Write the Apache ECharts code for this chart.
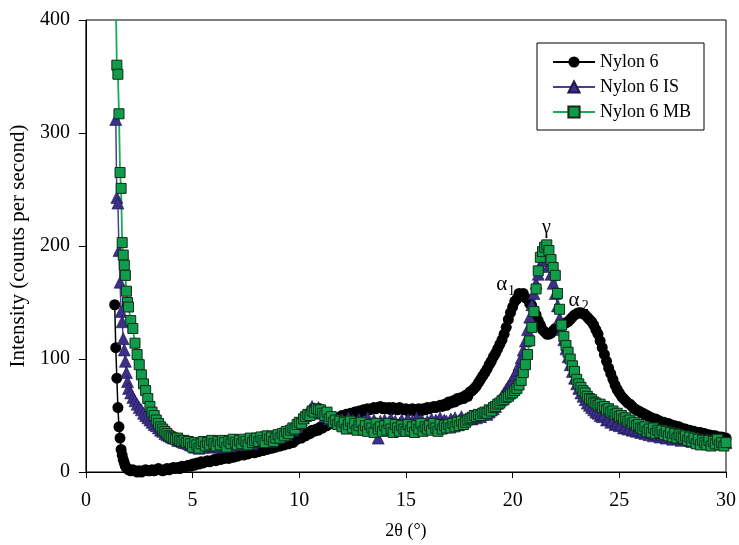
<!DOCTYPE html>
<html lang="en">
<head>
    <meta charset="UTF-8">
    <title>XRD Nylon 6</title>
    <script src="https://cdn.jsdelivr.net/npm/echarts@6/dist/echarts.min.js"></script>
    <style>
        body{ margin:0; background:#fff; }
        #main{ width:739px; height:545px; }
    </style>
</head>
<body>
<div id="main"></div>
<script>
    // 2θ values: 0.05 step for the steep start, 0.1 step after that
    var anglesStart = [1.3,1.35,1.4,1.45,1.5,1.55,1.6,1.65,1.7,1.75,1.8,1.85,1.9,1.95];
    var anglesMain = [
        2.0,2.1,2.2,2.3,2.4,2.5,2.6,2.7,2.8,2.9,
        3.0,3.1,3.2,3.3,3.4,3.5,3.6,3.7,3.8,3.9,
        4.0,4.1,4.2,4.3,4.4,4.5,4.6,4.7,4.8,4.9,
        5.0,5.1,5.2,5.3,5.4,5.5,5.6,5.7,5.8,5.9,
        6.0,6.1,6.2,6.3,6.4,6.5,6.6,6.7,6.8,6.9,
        7.0,7.1,7.2,7.3,7.4,7.5,7.6,7.7,7.8,7.9,
        8.0,8.1,8.2,8.3,8.4,8.5,8.6,8.7,8.8,8.9,
        9.0,9.1,9.2,9.3,9.4,9.5,9.6,9.7,9.8,9.9,
        10.0,10.1,10.2,10.3,10.4,10.5,10.6,10.7,10.8,10.9,
        11.0,11.1,11.2,11.3,11.4,11.5,11.6,11.7,11.8,11.9,
        12.0,12.1,12.2,12.3,12.4,12.5,12.6,12.7,12.8,12.9,
        13.0,13.1,13.2,13.3,13.4,13.5,13.6,13.7,13.8,13.9,
        14.0,14.1,14.2,14.3,14.4,14.5,14.6,14.7,14.8,14.9,
        15.0,15.1,15.2,15.3,15.4,15.5,15.6,15.7,15.8,15.9,
        16.0,16.1,16.2,16.3,16.4,16.5,16.6,16.7,16.8,16.9,
        17.0,17.1,17.2,17.3,17.4,17.5,17.6,17.7,17.8,17.9,
        18.0,18.1,18.2,18.3,18.4,18.5,18.6,18.7,18.8,18.9,
        19.0,19.1,19.2,19.3,19.4,19.5,19.6,19.7,19.8,19.9,
        20.0,20.1,20.2,20.3,20.4,20.5,20.6,20.7,20.8,20.9,
        21.0,21.1,21.2,21.3,21.4,21.5,21.6,21.7,21.8,21.9,
        22.0,22.1,22.2,22.3,22.4,22.5,22.6,22.7,22.8,22.9,
        23.0,23.1,23.2,23.3,23.4,23.5,23.6,23.7,23.8,23.9,
        24.0,24.1,24.2,24.3,24.4,24.5,24.6,24.7,24.8,24.9,
        25.0,25.1,25.2,25.3,25.4,25.5,25.6,25.7,25.8,25.9,
        26.0,26.1,26.2,26.3,26.4,26.5,26.6,26.7,26.8,26.9,
        27.0,27.1,27.2,27.3,27.4,27.5,27.6,27.7,27.8,27.9,
        28.0,28.1,28.2,28.3,28.4,28.5,28.6,28.7,28.8,28.9,
        29.0,29.1,29.2,29.3,29.4,29.5,29.6,29.7,29.8,29.9,
        30.0
    ];

    // intensities (counts per second), same order as the angles
    var nylon6 = [
        null,148,110,83,57,40,30,20,15,11,8,5,4,3,
        2,1,2,1,0,1,0,1,2,1,
        1,2,1,2,3,2,1,2,3,2,
        3,4,3,4,3,5,4,5,6,5,
        7,6,8,7,9,8,9,10,9,10,
        11,10,12,11,13,12,13,12,14,13,
        15,14,15,16,15,17,16,17,18,17,
        19,18,20,19,21,20,22,21,23,22,
        24,23,25,24,26,25,27,26,28,29,
        31,30,33,32,35,34,37,36,38,37,
        40,39,42,41,44,43,46,45,48,47,
        50,49,51,50,52,51,53,52,54,53,
        55,54,56,55,56,57,56,57,58,56,
        57,56,57,55,57,56,55,57,56,55,
        56,54,55,56,54,55,56,54,56,55,
        57,56,57,58,57,58,59,58,60,59,
        62,61,63,62,65,64,66,65,68,67,
        71,72,74,76,79,82,85,88,91,95,
        98,102,105,109,113,117,122,128,135,141,
        146,151,153,158,156,158,154,153,149,147,
        143,139,134,130,126,124,122,122,123,125,
        127,128,129,130,131,132,133,135,137,139,
        140,141,141,140,139,137,135,133,130,126,
        122,116,110,104,98,92,87,82,77,73,
        70,67,65,63,61,60,58,56,55,54,
        53,52,51,50,49,48,47,47,46,45,
        44,44,43,43,42,41,41,40,40,39,
        38,38,37,37,36,36,35,35,35,34,
        34,33,33,32,32,32,31,31,31,30,
        30
    ];

    var nylon6IS = [
        null,null,312,243,238,196,168,142,133,118,108,98,88,80,
        74,70,66,63,60,57,55,52,50,48,
        46,44,42,41,39,37,36,34,33,32,
        31,30,30,28,28,27,26,26,25,24,
        24,22,23,21,24,22,23,25,22,24,
        23,26,24,22,25,27,24,26,23,27,
        25,28,26,24,27,29,26,28,25,29,
        30,27,31,29,28,32,30,27,32,30,
        31,34,32,35,33,36,38,37,41,40,
        44,46,48,50,53,55,58,56,54,57,
        52,54,49,51,47,50,45,48,46,44,
        47,43,45,48,42,46,44,41,47,43,
        45,42,48,44,41,46,43,30,45,42,
        46,41,44,47,42,45,40,43,46,41,
        44,47,42,45,43,48,41,46,44,42,
        45,43,47,42,46,44,48,43,46,45,
        43,47,45,48,44,46,49,45,47,48,
        48,47,49,48,50,49,51,52,51,53,
        55,56,58,61,64,67,70,73,76,79,
        82,86,90,95,101,108,116,126,137,148,
        158,167,175,182,187,189,187,182,175,167,
        158,147,136,126,117,109,102,95,89,83,
        78,74,70,67,64,61,59,57,55,53,
        52,50,49,51,46,47,44,46,42,43,
        41,42,39,40,38,39,37,38,36,37,
        35,36,34,35,33,35,32,34,33,31,
        33,32,30,33,31,29,32,30,31,28,
        30,29,31,28,27,30,28,29,26,28,
        27,29,26,28,25,27,26,28,25,26,
        26
    ];

    var nylon6MB = [
        600,480,420,360,352,317,265,251,203,192,183,174,160,150,
        146,134,127,114,104,95,86,78,72,65,
        58,53,50,46,43,40,38,36,34,32,
        31,30,29,30,28,27,28,26,27,25,
        22,26,24,21,25,27,23,26,24,28,
        25,23,27,24,28,26,22,27,25,29,
        26,24,28,25,29,27,24,30,26,28,
        30,27,31,28,26,32,29,31,27,30,
        33,30,34,32,36,34,37,39,38,42,
        44,43,47,49,51,50,54,53,56,55,
        55,52,50,53,47,49,44,46,42,45,
        40,44,38,42,45,39,43,37,41,44,
        37,41,36,42,39,35,43,38,40,36,
        41,37,43,38,35,42,39,36,41,38,
        36,42,37,40,35,41,38,43,36,40,
        38,41,37,43,39,36,42,38,41,39,
        42,39,43,40,44,41,45,42,44,46,
        47,48,50,49,51,50,52,53,52,55,
        54,57,58,60,61,63,64,66,67,69,
        70,72,74,77,81,88,95,104,116,128,
        142,162,178,190,195,199,201,196,188,181,
        174,158,144,130,120,112,106,100,94,89,
        82,78,75,72,70,67,65,64,62,61,
        59,60,57,58,55,56,53,54,51,52,
        49,50,47,48,45,46,43,44,41,42,
        39,38,40,36,38,35,39,34,37,35,
        37,33,36,32,35,31,34,30,33,31,
        30,32,28,31,27,30,25,29,24,28,
        26,24,28,23,27,25,29,24,26,23,
        26
    ];

    var seriesNames = ['Nylon 6', 'Nylon 6 IS', 'Nylon 6 MB'];
    var xTicks = { min: 0, max: 30, step: 5 };
    var yTicks = { min: 0, max: 400, step: 100 };

    var angles = anglesStart.concat(anglesMain);

    function pairs(vals) {
        var out = [];
        for (var i = 0; i < angles.length; i++) {
            if (vals[i] !== null) out.push([angles[i], vals[i]]);
        }
        return out;
    }

    var serif = 'Liberation Serif';
    var myChart = echarts.init(document.getElementById('main'));

    var option = {
        animation: false,
        backgroundColor: '#fff',
        grid: {
            left: 84, right: 10, top: 20, bottom: 73,
            show: true, borderColor: '#000', borderWidth: 1
        },
        legend: {
            orient: 'vertical',
            left: 537, top: 43,
            padding: [10, 13, 9, 15],
            itemGap: 7,
            itemWidth: 42,
            itemHeight: 14,
            borderColor: '#000',
            borderWidth: 1,
            backgroundColor: '#fff',
            textStyle: { fontFamily: serif, fontSize: 18, color: '#000' },
            data: seriesNames
        },
        xAxis: {
            type: 'value',
            min: xTicks.min, max: xTicks.max, interval: xTicks.step,
            name: '2θ (°)',
            nameLocation: 'middle',
            nameGap: 50,
            nameTextStyle: { fontFamily: serif, fontSize: 18, color: '#000' },
            axisLine: { lineStyle: { color: '#000', width: 1 } },
            axisTick: { inside: false, length: 6, lineStyle: { color: '#000' } },
            axisLabel: { fontFamily: serif, fontSize: 20, color: '#000', margin: 19 },
            splitLine: { show: false }
        },
        yAxis: {
            type: 'value',
            min: yTicks.min, max: yTicks.max, interval: yTicks.step,
            name: 'Intensity (counts per second)',
            nameLocation: 'middle',
            nameGap: 55,
            nameTextStyle: { fontFamily: serif, fontSize: 21, color: '#000' },
            axisLine: { lineStyle: { color: '#000', width: 1 } },
            axisTick: { inside: false, length: 7, lineStyle: { color: '#000' } },
            axisLabel: { fontFamily: serif, fontSize: 20, color: '#000', margin: 16 },
            splitLine: { show: false }
        },
        series: [{
            name: seriesNames[0],
            type: 'line',
            data: pairs(nylon6),
            symbol: 'circle',
            symbolSize: 11,
            lineStyle: { color: '#000', width: 1.5 },
            itemStyle: { color: '#000', borderColor: '#000', borderWidth: 0 },
            emphasis: { disabled: true },
            markPoint: {
                symbolSize: 0,
                label: { show: true, position: 'inside', fontFamily: serif, color: '#000' },
                data: [
                    { coord: [19.49, 166], label: { formatter: 'α', fontSize: 21 } },
                    { coord: [19.95, 160], label: { formatter: '1', fontSize: 14 } },
                    { coord: [21.58, 216], label: { formatter: 'γ', fontSize: 20 } },
                    { coord: [22.88, 152], label: { formatter: 'α', fontSize: 21 } },
                    { coord: [23.40, 147], label: { formatter: '2', fontSize: 14 } }
                ]
            }
        }, {
            name: seriesNames[1],
            type: 'line',
            data: pairs(nylon6IS),
            symbol: 'triangle',
            symbolSize: 12,
            lineStyle: { color: '#4b3c96', width: 1.5 },
            itemStyle: { color: '#3b2f88', borderColor: '#1c1650', borderWidth: 0.6 },
            emphasis: { disabled: true }
        }, {
            name: seriesNames[2],
            type: 'line',
            data: pairs(nylon6MB),
            symbol: 'rect',
            symbolSize: 10,
            lineStyle: { color: '#18ad55', width: 1.8 },
            itemStyle: { color: '#0f9d4c', borderColor: '#122a16', borderWidth: 1 },
            emphasis: { disabled: true }
        }]
    };

    myChart.setOption(option);
</script>
</body>
</html>
